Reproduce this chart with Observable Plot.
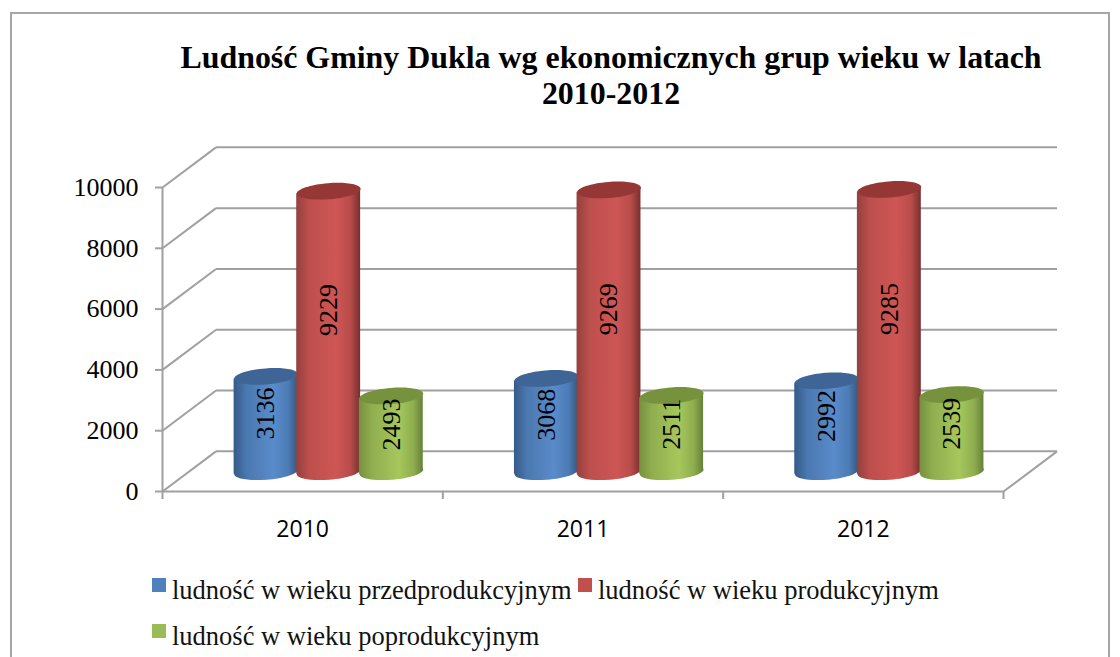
<!DOCTYPE html>
<html lang="pl">
<head>
<meta charset="utf-8">
<script src="https://cdn.jsdelivr.net/npm/d3@7"></script>
<script src="https://cdn.jsdelivr.net/npm/@observablehq/plot@0.6"></script>
<style>
html,body{margin:0;padding:0;width:1120px;height:657px;overflow:hidden;background:#fff;}
#frame{position:absolute;left:10px;top:12px;width:1096px;height:660px;border:2px solid #a6a6a6;}
#title{position:absolute;left:100px;top:40px;width:1022px;text-align:center;font:bold 31.9px/36px "Liberation Serif",serif;color:#000;}
#chart{position:absolute;left:0;top:125px;}
.lg{position:absolute;font:26.5px/30px "Liberation Serif",serif;color:#111;white-space:nowrap;}
.sw{position:absolute;width:14px;height:14px;}
</style>
</head>
<body>
<div id="frame"></div>
<div id="title">Ludność Gminy Dukla wg ekonomicznych grup wieku w latach<br>2010-2012</div>
<div id="chart"></div>
<div id="legend"></div>
<script>
const years = [2010, 2011, 2012];
const seriesNames = ["ludność w wieku przedprodukcyjnym", "ludność w wieku produkcyjnym", "ludność w wieku poprodukcyjnym"];
const przed = [3136, 3068, 2992];
const prod = [9229, 9269, 9285];
const po = [2493, 2511, 2539];
const yTicks = [0, 2000, 4000, 6000, 8000, 10000];
const seriesValues = [przed, prod, po];

const depthX = 0.191, depthY = 1320;          // oblique offset of the back wall, in data units
const baseY = 650, offsets = [-0.2234, 0, 0.2234], halfBar = 0.114, radius = 32, tiltY = 82;
const topColors = ["#3e6595", "#953735", "#76923c"];
const legendColors = ["#4f81bd", "#c0504d", "#9bbb59"];
const stops = [
  ["#355a87", "#4a78b0", "#5a8bca", "#4c7cb6", "#36597f"],
  ["#93403e", "#bd4f4c", "#ce5655", "#b84c4a", "#76302e"],
  ["#76903f", "#90ae4f", "#a6c75c", "#8fae4f", "#66803a"]
];

// Tilted ellipse as a Plot symbol: the horizontal radius comes from the dot's r.
const ellipse = {
  draw(c, size) {
    const rx = Math.sqrt(size / Math.PI), ry = rx / 4, k = 0.5523, t = -4.5 * Math.PI / 180;
    const P = (x, y) => [x * Math.cos(t) - y * Math.sin(t), x * Math.sin(t) + y * Math.cos(t)];
    c.moveTo(...P(rx, 0));
    c.bezierCurveTo(...P(rx, k * ry), ...P(k * rx, ry), ...P(0, ry));
    c.bezierCurveTo(...P(-k * rx, ry), ...P(-rx, k * ry), ...P(-rx, 0));
    c.bezierCurveTo(...P(-rx, -k * ry), ...P(-k * rx, -ry), ...P(0, -ry));
    c.bezierCurveTo(...P(k * rx, -ry), ...P(rx, -k * ry), ...P(rx, 0));
    c.closePath();
  }
};

const defs = () => {
  const d = d3.create("svg:defs");
  stops.forEach((s, i) => {
    const g = d.append("linearGradient").attr("id", "cyl" + i);
    [0, .2, .62, .85, 1].forEach((o, j) => g.append("stop").attr("offset", o).attr("stop-color", s[j]));
  });
  return d.node();
};

const center = (g, s) => g + 0.5928 + offsets[s];
const rows = seriesValues.map((vals, s) => vals.map((v, g) => ({
  g, x: center(g, s), y0: baseY, yTop: baseY + v, v, labelY: 806 + 0.56 * v
})));
// Each cylinder body is a two-point area whose ends follow the tilt of its ellipses.
const bodies = rows.map(r => r.flatMap(d => [
  {g: d.g, x: d.x - halfBar, y1: d.y0 - tiltY, y2: d.yTop - tiltY},
  {g: d.g, x: d.x + halfBar, y1: d.y0 + tiltY, y2: d.yTop + tiltY}
]));

const gridColor = "#a0a0a0";
const wall = yTicks.map(t => ({t}));
const cylinders = rows.flatMap((r, s) => [
  Plot.dot(r, {x: "x", y: "y0", r: radius, symbol: ellipse, fill: `url(#cyl${s})`, stroke: "none"}),
  Plot.areaY(bodies[s], {x: "x", y1: "y1", y2: "y2", z: "g", fill: `url(#cyl${s})`}),
  Plot.dot(r, {x: "x", y: "yTop", r: radius, symbol: ellipse, fill: topColors[s], stroke: "none"})
]);
const labels = rows.map(r => Plot.text(r, {
  x: "x", y: "labelY", text: d => String(d.v), rotate: -90,
  fontSize: 26, fontFamily: "Liberation Serif", fill: "#000"
}));

const plot = Plot.plot({
  width: 1120, height: 420,
  marginLeft: 162, marginRight: 117, marginTop: 62, marginBottom: 54,
  style: {background: "transparent", overflow: "visible"},
  x: {type: "linear", domain: [0, 3]},
  y: {type: "linear", domain: [0, 10000]},
  marks: [
    defs,
    Plot.link(wall, {x1: () => depthX, x2: () => 3 + depthX, y1: d => d.t + depthY, y2: d => d.t + depthY, stroke: gridColor, strokeWidth: 2}),
    Plot.link(wall, {x1: () => 0, x2: () => depthX, y1: "t", y2: d => d.t + depthY, stroke: gridColor, strokeWidth: 2}),
    Plot.link([0], {x1: () => 3, x2: () => 3 + depthX, y1: () => 0, y2: () => depthY, stroke: gridColor, strokeWidth: 2}),
    Plot.ruleY([0], {x1: 0, x2: 3, stroke: gridColor, strokeWidth: 2}),
    Plot.ruleX([0], {y1: 0, y2: 10000, stroke: gridColor, strokeWidth: 2}),
    Plot.axisY({ticks: yTicks, tickSize: 7, tickPadding: 17, stroke: gridColor, strokeWidth: 2, label: null,
      fontSize: 26, fontFamily: "Liberation Serif", tickFormat: d => String(d), color: "#000"}),
    Plot.axisX({ticks: [0, 1, 2, 3], tickSize: 8, stroke: gridColor, strokeWidth: 2, tickFormat: () => "", label: null}),
    Plot.axisX({ticks: [0.5, 1.5, 2.5], tickSize: 0, tickPadding: 29, label: null, stroke: "none", fontSize: 23,
      fontFamily: "Open Sans", tickFormat: d => String(years[Math.floor(d)]), color: "#000"}),
    ...cylinders,
    ...labels
  ]
});
document.getElementById("chart").append(plot);

const legendPos = [[152, 578], [578, 578], [152, 624]];
const lg = document.getElementById("legend");
seriesNames.forEach((n, i) => {
  const sw = document.createElement("div");
  sw.className = "sw"; sw.style.left = legendPos[i][0] + "px"; sw.style.top = legendPos[i][1] + "px";
  sw.style.background = legendColors[i];
  const t = document.createElement("div");
  t.className = "lg"; t.textContent = n;
  t.style.left = legendPos[i][0] + 20 + "px"; t.style.top = legendPos[i][1] - 3 + "px";
  lg.append(sw, t);
});
</script>
</body>
</html>
